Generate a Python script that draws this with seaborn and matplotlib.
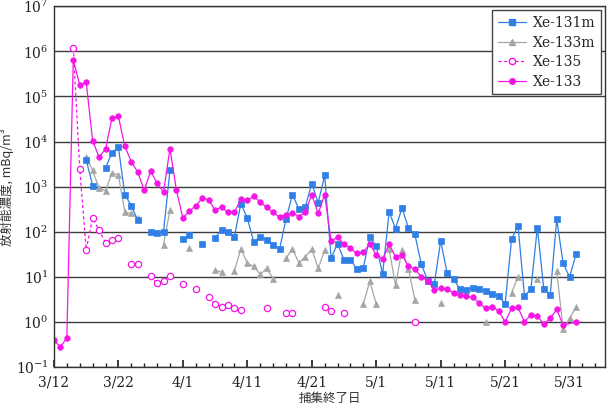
import numpy as np
import pandas as pd
import matplotlib
matplotlib.use("Agg")
import matplotlib.pyplot as plt
import matplotlib.ticker as mticker
from matplotlib.lines import Line2D
import seaborn as sns

# days counted from 3/12 (collection end date)
tick_days = [0, 10, 20, 30, 40, 50, 60, 70, 80]
tick_labels = ["3/12", "3/22", "4/1", "4/11", "4/21", "5/1", "5/11", "5/21", "5/31"]

# Xe-133 (magenta, filled circles)
days_133 = list(range(0, 80)) + [81]
xe133 = [0.39, 0.28, 0.44, 6.5e5, 1.8e5, 2.1e5, 1.05e4, 4.5e3, 6.8e3, 3.3e4,
         3.6e4, 7.8e3, 3.6e3, 2.1e3, 830, 2.2e3, 1.2e3, 760, 7.0e3, 830,
         205, 285, 380, 550, 515, 300, 355, 270, 270, 525,
         500, 610, 455, 348, 270, 210, 240, 265, 217, 275,
         660, 255, 660, 63, 75, 53, 43, 33, 35, 54,
         31, 25, 53, 28, 31, 17, 15, 10, 8.2, 5.1,
         5.6, 5.3, 4.4, 4.0, 3.7, 3.5, 2.6, 2.0, 2.2, 1.75,
         1.0, 2.0, 2.1, 1.0, 1.45, 1.35, 0.9, 1.2, 1.9, 0.85,
         1.0]

# Xe-131m (blue squares)
days_131m = [5, 6, 8, 9, 10, 11, 12, 13, 15, 16, 17, 18, 20, 21, 23,
             25, 26, 27, 28, 29, 30, 31, 32, 33, 34, 35, 36, 37, 38, 39,
             40, 41, 42, 43, 44, 45, 46, 47, 48, 49, 50, 51, 52, 53, 54,
             55, 56, 57, 58, 59, 60, 61, 62, 63, 64, 65, 66, 67, 68, 69,
             70, 71, 72, 73, 74, 75, 76, 77, 78, 79, 80, 81]
xe131m = [4.0e3, 1.05e3, 2.6e3, 5.6e3, 7.5e3, 660, 380, 180, 100, 96, 100, 2.3e3, 69, 83, 54,
          73, 112, 99, 78, 420, 203, 59, 78, 67, 50, 41, 190, 660, 325, 355,
          1.17e3, 440, 1.78e3, 26, 54, 24, 24, 15, 16, 76, 48, 11.7, 275, 118, 337,
          121, 87, 19, 8.2, 6.8, 63, 12, 8.9, 5.3, 5.1, 5.6, 5.4, 4.8, 4.1, 3.8,
          2.5, 69, 134, 3.8, 5.3, 124, 5.4, 4.0, 190, 20, 9.9, 32]

# Xe-133m (gray triangles)
days_133m = [5, 6, 7, 8, 9, 10, 11, 12, 13, 17, 18, 21, 25, 26,
             28, 29, 30, 31, 32, 33, 34, 36, 37, 38, 39, 40, 41, 42,
             44, 48, 49, 50, 52, 53, 54, 55, 56, 60, 67, 71, 72, 75,
             78, 79, 80, 81]
xe133m = [4.6e3, 2.3e3, 920, 810, 2.0e3, 1.83e3, 270, 255, 200, 52, 300, 44, 14, 12.7,
          13.6, 42, 20, 17, 11.3, 15.4, 9.1, 25.6, 42, 20.5, 28, 41, 15.5, 39,
          4.0, 2.5, 8.0, 2.5, 41, 6.5, 40, 15, 3.1, 2.6, 1.0, 4.4, 10, 9.1,
          13.6, 0.69, 1.2, 2.1]

# Xe-135 (magenta dashed, open circles)
days_135 = [3, 4, 5, 6, 7, 8, 9, 10, 12, 13, 15, 16, 17, 18, 20, 22,
            24, 25, 26, 27, 28, 29, 33, 36, 37, 42, 43, 45, 56]
xe135 = [1.2e6, 2.5e3, 40, 200, 108, 57, 65, 71, 19, 19, 10.5, 7.2, 8.0, 10.4, 6.8, 5.3,
         3.5, 2.5, 2.1, 2.4, 2.0, 1.8, 2.0, 1.55, 1.6, 2.1, 1.75, 1.55, 1.0]

blue = "#2f7fe6"
gray = "#a6a6a6"
magenta = "#f516e6"


def to_frame(days, vals, split=True):
    df = pd.DataFrame({"day": days, "value": vals})
    # break the line where a day is missing
    df["seg"] = (df["day"].diff() != 1).cumsum() if split else 0
    return df


sns.set_theme(style="ticks")
plt.rcParams["font.family"] = ["DejaVu Serif", "Noto Sans CJK JP"]
plt.rcParams["mathtext.fontset"] = "dejavuserif"

fig = plt.figure(figsize=(6.13, 4.19), dpi=100)
ax = fig.add_axes([0.088, 0.124, 0.899, 0.861])
ax.set_yscale("log")

common = dict(x="day", y="value", units="seg", estimator=None, sort=False,
              legend=False, ax=ax, linewidth=0.9)

sns.lineplot(data=to_frame(days_133m, xe133m), color=gray, marker="^", markersize=4.5,
             markeredgecolor=gray, markeredgewidth=0.5, **common)
sns.lineplot(data=to_frame(days_131m, xe131m), color=blue, marker="s", markersize=4,
             markeredgecolor=blue, markeredgewidth=0.5, **common)
sns.lineplot(data=to_frame(days_135, xe135), color=magenta, marker="o", markersize=4.5,
             markerfacecolor="white", markeredgecolor=magenta, markeredgewidth=0.9,
             linestyle=(0, (2.5, 2)), **common)
sns.lineplot(data=to_frame(days_133, xe133, split=False), color=magenta, marker="o",
             markersize=4, markeredgecolor=magenta, markeredgewidth=0.5, **common)

ax.set_xlim(0, 85.5)
ax.set_ylim(0.1, 1e7)
ax.set_xticks(tick_days)
ax.set_xticklabels(tick_labels)
ax.xaxis.set_minor_locator(mticker.MultipleLocator(2))
ax.yaxis.set_major_locator(mticker.LogLocator(base=10, numticks=12))
ax.yaxis.set_minor_locator(mticker.NullLocator())
ax.tick_params(axis="both", which="both", direction="in", labelsize=10, colors="#222222")
ax.tick_params(axis="x", which="major", length=5, pad=6)
ax.tick_params(axis="x", which="minor", length=3)
ax.tick_params(axis="y", which="major", length=0, pad=4)
ax.yaxis.grid(True, color="#3c3c3c", linewidth=1.0)
ax.xaxis.grid(False)
for s in ax.spines.values():
    s.set_color("#333333")
    s.set_linewidth(1.0)

ax.set_xlabel("捕集終了日", fontsize=9, family=["Noto Sans CJK JP", "DejaVu Sans"],
              color="#333333", labelpad=2)
ax.set_ylabel("放射能濃度, mBq/m³", fontsize=9, family=["Noto Sans CJK JP", "DejaVu Sans"],
              color="#333333", labelpad=1)

handles = [
    Line2D([], [], color=blue, marker="s", markersize=4, linewidth=0.9, label="Xe-131m"),
    Line2D([], [], color=gray, marker="^", markersize=4.5, linewidth=0.9, label="Xe-133m"),
    Line2D([], [], color=magenta, marker="o", markersize=4.5, markerfacecolor="white",
           linestyle=(0, (2.5, 2)), linewidth=0.9, label="Xe-135"),
    Line2D([], [], color=magenta, marker="o", markersize=4, linewidth=0.9, label="Xe-133"),
]
leg = ax.legend(handles=handles, loc="upper right", fontsize=10, frameon=True,
                fancybox=False, edgecolor="#444444", framealpha=1,
                handlelength=2.0, handletextpad=0.5, borderaxespad=0.3,
                labelspacing=0.4)
leg.get_frame().set_linewidth(1.0)

fig.savefig("out.png", dpi=100)
